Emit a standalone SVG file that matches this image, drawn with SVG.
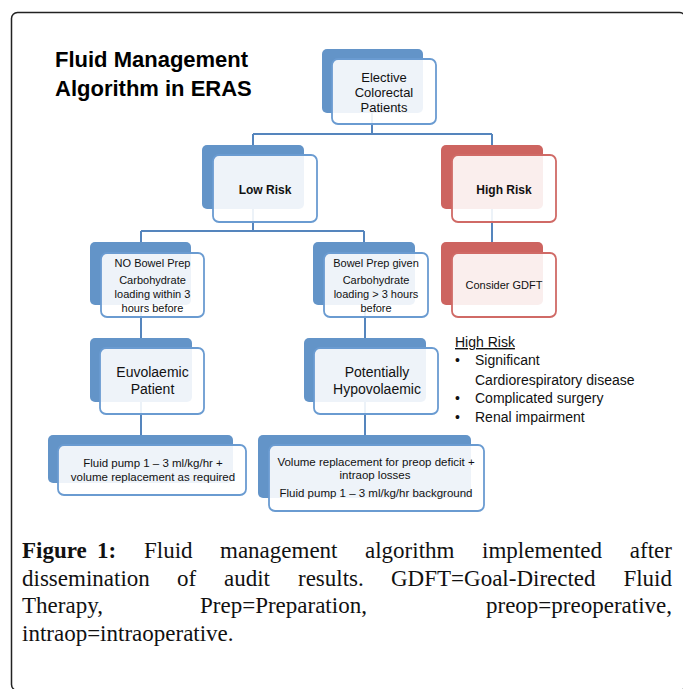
<svg xmlns="http://www.w3.org/2000/svg" width="683" height="689" viewBox="0 0 683 689">
<style>
.bb{fill:#6394c8}
.bf{fill:#ffffff;fill-opacity:0.89;stroke:#6a9bd1;stroke-width:1.8}
.rb{fill:#cd6460}
.rf{fill:#ffffff;fill-opacity:0.89;stroke:#d06a66;stroke-width:1.8}
.t{font-family:"Liberation Sans",Arial,sans-serif;fill:#111;text-anchor:middle}
.tb{font-weight:bold}
.c{fill:none;stroke:#5585bd;stroke-width:2}
.cap{font-family:"Liberation Serif","Times New Roman",serif;font-size:23px;fill:#111}
.hr{font-family:"Liberation Sans",Arial,sans-serif;font-size:14px;fill:#111}
</style>
<rect width="683" height="689" fill="#ffffff"/>
<rect x="11.5" y="12.5" width="674" height="678" rx="6" fill="none" stroke="#222" stroke-width="1.5"/>
<g id="title">
<text x="55" y="67" style="font-family:'Liberation Sans',Arial,sans-serif;font-size:22px;font-weight:bold;fill:#000">Fluid Management</text>
<text x="55" y="96" style="font-family:'Liberation Sans',Arial,sans-serif;font-size:22px;font-weight:bold;fill:#000">Algorithm in ERAS</text>
</g>
<g id="connectors">
<path class="c" d="M372 113V134M253 134H492M253 134V145M492 134V145"/>
<path class="c" d="M253 209V231M141 231H364M141 231V242M364 231V242M492 209V242"/>
<path class="c" d="M141 305V338M365 305V338M141 402V435M365 402V435"/>
</g>
<g id="elective">
<rect class="bb" x="322" y="49" width="101" height="64" rx="5"/>
<rect class="bf" x="332" y="59" width="104" height="65" rx="6"/>
<text class="t" x="384" y="82" font-size="13">Elective</text>
<text class="t" x="384" y="97" font-size="13">Colorectal</text>
<text class="t" x="384" y="112" font-size="13">Patients</text>
</g>
<g id="lowrisk">
<rect class="bb" x="202" y="145" width="102" height="64" rx="5"/>
<rect class="bf" x="213" y="155" width="104" height="67" rx="6"/>
<text class="t tb" x="265" y="194" font-size="12">Low Risk</text>
</g>
<g id="highrisk">
<rect class="rb" x="441" y="145" width="102" height="64" rx="5"/>
<rect class="rf" x="452" y="155" width="104" height="67" rx="6"/>
<text class="t tb" x="504" y="194" font-size="12">High Risk</text>
</g>
<g id="nobowel">
<rect class="bb" x="90" y="242" width="101" height="63" rx="5"/>
<rect class="bf" x="101" y="253" width="103" height="64" rx="6"/>
<text class="t" x="152.5" y="267" font-size="11">NO Bowel Prep</text>
<text class="t" x="152.5" y="284" font-size="11">Carbohydrate</text>
<text class="t" x="152.5" y="298" font-size="11">loading within 3</text>
<text class="t" x="152.5" y="312" font-size="11">hours before</text>
</g>
<g id="bowelgiven">
<rect class="bb" x="313" y="242" width="102" height="63" rx="5"/>
<rect class="bf" x="324" y="253" width="104" height="64" rx="6"/>
<text class="t" x="376" y="267" font-size="11">Bowel Prep given</text>
<text class="t" x="376" y="284" font-size="11">Carbohydrate</text>
<text class="t" x="376" y="298" font-size="11">loading &gt; 3 hours</text>
<text class="t" x="376" y="312" font-size="11">before</text>
</g>
<g id="gdft">
<rect class="rb" x="441" y="242" width="102" height="63" rx="5"/>
<rect class="rf" x="452" y="253" width="104" height="64" rx="6"/>
<text class="t" x="504" y="289" font-size="11">Consider GDFT</text>
</g>
<g id="euvolaemic">
<rect class="bb" x="90" y="338" width="102" height="64" rx="5"/>
<rect class="bf" x="100" y="348" width="104" height="66" rx="6"/>
<text class="t" x="152.5" y="377" font-size="14">Euvolaemic</text>
<text class="t" x="152.5" y="394" font-size="14">Patient</text>
</g>
<g id="hypovolaemic">
<rect class="bb" x="304" y="338" width="122" height="64" rx="5"/>
<rect class="bf" x="314" y="348" width="124" height="66" rx="6"/>
<text class="t" x="377" y="377" font-size="14">Potentially</text>
<text class="t" x="377" y="394" font-size="14">Hypovolaemic</text>
</g>
<g id="fluidpump">
<rect class="bb" x="48" y="435" width="185" height="48" rx="5"/>
<rect class="bf" x="58" y="445" width="188" height="50" rx="6"/>
<text class="t" x="153" y="467" font-size="11.5">Fluid pump 1 – 3 ml/kg/hr +</text>
<text class="t" x="153" y="481" font-size="11.5">volume replacement as required</text>
</g>
<g id="volume">
<rect class="bb" x="258" y="435" width="213" height="63" rx="5"/>
<rect class="bf" x="269" y="445" width="215" height="66" rx="6"/>
<text class="t" x="376" y="466" font-size="11.5">Volume replacement for preop deficit  +</text>
<text class="t" x="375" y="479" font-size="11.5">intraop losses</text>
<text class="t" x="376" y="497" font-size="11.5">Fluid pump 1 – 3 ml/kg/hr background</text>
</g>
<g id="highrisk-list">
<text class="hr" x="455" y="347" text-decoration="underline">High Risk</text>
<text class="hr" x="455" y="365">•</text>
<text class="hr" x="475" y="365">Significant</text>
<text class="hr" x="475" y="385">Cardiorespiratory disease</text>
<text class="hr" x="455" y="403">•</text>
<text class="hr" x="475" y="403">Complicated surgery</text>
<text class="hr" x="455" y="422">•</text>
<text class="hr" x="475" y="422">Renal impairment</text>
</g>
<g id="caption">
<text class="cap" y="558"><tspan x="22" font-weight="bold">Figure</tspan><tspan x="97" font-weight="bold">1:</tspan><tspan x="144">Fluid</tspan><tspan x="220">management</tspan><tspan x="365">algorithm</tspan><tspan x="482">implemented</tspan><tspan x="672" text-anchor="end">after</tspan></text>
<text class="cap" y="586"><tspan x="22">dissemination</tspan><tspan x="177">of</tspan><tspan x="224">audit</tspan><tspan x="298">results.</tspan><tspan x="391">GDFT=Goal-Directed</tspan><tspan x="672" text-anchor="end">Fluid</tspan></text>
<text class="cap" y="613"><tspan x="22">Therapy,</tspan><tspan x="200">Prep=Preparation,</tspan><tspan x="672" text-anchor="end">preop=preoperative,</tspan></text>
<text class="cap" y="641"><tspan x="22">intraop=intraoperative.</tspan></text>
</g>
</svg>
